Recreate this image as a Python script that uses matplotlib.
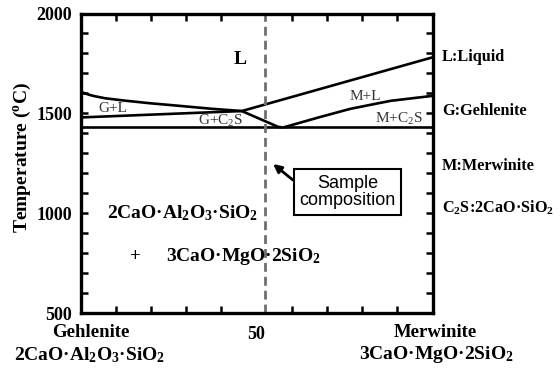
import matplotlib
matplotlib.use("Agg")
import matplotlib.pyplot as plt
from matplotlib.ticker import MultipleLocator, FixedLocator

plt.rcParams['font.family'] = ['Liberation Serif', 'DejaVu Serif']
plt.rcParams['mathtext.default'] = 'regular'

# ---- data (composition in % Merwinite, temperature in degC) ----
liqG_comp = [0, 1.28, 2.70, 4.12, 6.96, 12.64, 19.73, 26.8, 36.8, 45.8, 56.1, 57.3]
liqG_T = [1609, 1600, 1592, 1586, 1576, 1564, 1551, 1540, 1524, 1512, 1433, 1430]
mid_comp = [0, 45.8, 100]
mid_T = [1480, 1512, 1781]
eut_comp = [0, 100]
eut_T = [1430, 1430]
mc2s_comp = [57.6, 68.0, 76.6, 88.0, 100]
mc2s_T = [1430, 1482, 1523, 1563, 1588]
sample_comp = 52.5
ytick_vals = [500, 1000, 1500, 2000]
xtick_vals = [50]

fig = plt.figure(figsize=(5.6, 3.69), dpi=100)
ax = fig.add_axes([0.1438, 0.1509, 0.6289, 0.8125])
ax.set_xlim(0, 100)
ax.set_ylim(500, 2000)

lw = 1.9
for xs, ys in [(liqG_comp, liqG_T), (mid_comp, mid_T), (eut_comp, eut_T), (mc2s_comp, mc2s_T)]:
    ax.plot(xs, ys, color='black', lw=lw, solid_joinstyle='round', solid_capstyle='butt')

ax.axvline(sample_comp, color='#6f6f6f', lw=2, dashes=(3.2, 1.8))

for s in ax.spines.values():
    s.set_linewidth(2.4)

ax.xaxis.set_major_locator(FixedLocator(xtick_vals))
ax.xaxis.set_minor_locator(MultipleLocator(10))
ax.yaxis.set_major_locator(FixedLocator(ytick_vals))
ax.yaxis.set_minor_locator(MultipleLocator(100))
ax.tick_params(which='both', direction='in', top=True, right=True, width=1.8)
ax.tick_params(which='major', length=5, labelsize=13, pad=6)
ax.tick_params(which='minor', length=5)
ax.tick_params(axis='x', which='major', length=0, pad=9)
for lab in ax.get_xticklabels() + ax.get_yticklabels():
    lab.set_fontweight('bold')
    lab.set_family('Liberation Serif')

ax.set_ylabel('Temperature ($^{o}$C)', fontsize=14, fontweight='bold')
ax.yaxis.set_label_coords(-0.135, 0.52)

gray = '#333333'
ax.text(45.4, 1772, 'L', fontsize=14, fontweight='bold', ha='center', va='center')
ax.text(9.2, 1527, 'G+L', fontsize=11, color=gray, ha='center', va='center')
ax.text(39.9, 1464, 'G+C$_2$S', fontsize=11, color=gray, ha='center', va='center')
ax.text(80.8, 1584, 'M+L', fontsize=11, color=gray, ha='center', va='center')
ax.text(90.4, 1472, 'M+C$_2$S', fontsize=11, color=gray, ha='center', va='center')

dot = '\u00b7'
ax.text(29.0, 1003, f'2CaO{dot}Al$_2$O$_3${dot}SiO$_2$', fontsize=14, fontweight='bold',
        ha='center', va='center')
ax.text(15.5, 783, '+', fontsize=13.5, fontweight='bold', ha='center', va='center')
ax.text(46.2, 785, f'3CaO{dot}MgO{dot}2SiO$_2$', fontsize=14, fontweight='bold',
        ha='center', va='center')

ax.annotate('', xy=(54.7, 1247), xytext=(60.3, 1167),
            arrowprops=dict(arrowstyle='-|>', color='black', lw=2, mutation_scale=12,
                            shrinkA=0, shrinkB=0))
ax.text(75.8, 1107, 'Sample\ncomposition', fontsize=13, family='Liberation Sans',
        ha='center', va='center', linespacing=1.05,
        bbox=dict(boxstyle='square,pad=0.3', fc='white', ec='black', lw=1.5))

# right-hand legend texts
for yv, txt in [(1784, 'L:Liquid'), (1510, 'G:Gehlenite'), (1236, 'M:Merwinite'),
                (1030, f'C$_2$S:2CaO{dot}SiO$_2$')]:
    ax.text(102.6, yv, txt, fontsize=11.7, fontweight='bold', ha='left', va='center',
            clip_on=False)

# bottom end-member labels
ax.text(3.0, 406, 'Gehlenite', fontsize=13.5, fontweight='bold', ha='center', va='center',
        clip_on=False)
ax.text(2.7, 292, f'2CaO{dot}Al$_2$O$_3${dot}SiO$_2$', fontsize=14, fontweight='bold',
        ha='center', va='center', clip_on=False)
ax.text(100.7, 406, 'Merwinite', fontsize=13.5, fontweight='bold', ha='center', va='center',
        clip_on=False)
ax.text(101.0, 292, f'3CaO{dot}MgO{dot}2SiO$_2$', fontsize=14, fontweight='bold',
        ha='center', va='center', clip_on=False)

fig.savefig('out.png', dpi=100)
